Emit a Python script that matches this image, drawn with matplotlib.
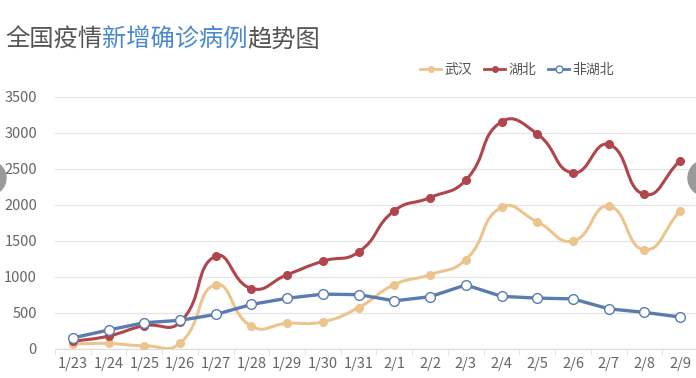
import numpy as np
import matplotlib.pyplot as plt
from matplotlib.path import Path
from matplotlib.patches import PathPatch, Circle
from matplotlib.lines import Line2D

plt.rcParams['font.family'] = ['Noto Sans CJK SC', 'DejaVu Sans']

dates = ["1/23", "1/24", "1/25", "1/26", "1/27", "1/28", "1/29", "1/30", "1/31",
         "2/1", "2/2", "2/3", "2/4", "2/5", "2/6", "2/7", "2/8", "2/9"]
wuhan = [70, 77, 46, 80, 892, 315, 356, 378, 576, 894, 1033, 1242, 1967, 1766, 1501, 1985, 1379, 1920]
hubei = [105, 180, 323, 371, 1291, 840, 1032, 1220, 1347, 1921, 2103, 2345, 3156, 2987, 2447, 2841, 2147, 2618]
non_hubei = [154, 264, 365, 398, 480, 619, 705, 762, 755, 669, 726, 890, 731, 707, 696, 558, 509, 444]

c_wuhan = "#ecc48e"
c_hubei = "#b0464c"
c_non = "#5a7cae"

fig = plt.figure(figsize=(6.96, 3.78), dpi=100)
ax = fig.add_axes([55 / 696, 29 / 378, 643 / 696, 252 / 378])
x = np.arange(len(dates))
ax.set_xlim(-0.5, len(dates) - 0.5)
ax.set_ylim(0, 3500)


def smooth_path(xs, ys, k=0.5):
    # echarts-like bezier smoothing, control points computed in pixel space
    pts = ax.transData.transform(np.column_stack([xs, ys]))
    n = len(pts)
    verts = [pts[0]]
    codes = [Path.MOVETO]
    cps = []
    for i in range(n):
        p = pts[i]
        prev = pts[i - 1] if i > 0 else p
        nxt = pts[i + 1] if i < n - 1 else p
        v = nxt - prev
        d0 = np.hypot(*(p - prev))
        d1 = np.hypot(*(nxt - p))
        s = d0 + d1
        if s == 0:
            cps.append((p, p))
            continue
        cps.append((p - v * k * d0 / s, p + v * k * d1 / s))
    for i in range(n - 1):
        verts += [cps[i][1], cps[i + 1][0], pts[i + 1]]
        codes += [Path.CURVE4] * 3
    verts = ax.transData.inverted().transform(np.array(verts))
    return Path(verts, codes)


for vals, col, z in [(wuhan, c_wuhan, 3), (hubei, c_hubei, 4)]:
    ax.add_patch(PathPatch(smooth_path(x, vals), facecolor="none", edgecolor=col, lw=2.2, zorder=z))
    ax.plot(x, vals, ls="none", marker="o", ms=5.5, color=col, mec=col, zorder=z + 0.5)
ax.plot(x, non_hubei, color=c_non, lw=2.4, marker="o", ms=7, mfc="white", mec=c_non, mew=1.0, zorder=6)

ax.set_yticks(np.arange(0, 3501, 500))
ax.grid(axis="y", color="#e6e6e6", lw=1)
ax.set_axisbelow(True)
for s in ["top", "right", "left"]:
    ax.spines[s].set_visible(False)
ax.spines["bottom"].set_color("#dddddd")
ax.set_xticks(x)
ax.set_xticklabels(dates)
ax.set_xticks(np.arange(-0.5, len(dates), 1), minor=True)
ax.tick_params(axis="x", which="major", length=0, pad=6, labelsize=10.5, colors="#666666")
ax.tick_params(axis="x", which="minor", length=4, color="#dddddd")
ax.tick_params(axis="y", length=0, pad=13, labelsize=10.5, colors="#666666")

# title with highlighted part
t1 = fig.text(5 / 696, 1 - 40 / 378, "全国疫情", fontsize=17.5, color="#555555", va="center")
t2 = ax.annotate("新增确诊病例", xy=(1, 0), xycoords=t1, va="bottom", fontsize=17.5, color="#4a88cf",
                 annotation_clip=False)
ax.annotate("趋势图", xy=(1, 0), xycoords=t2, va="bottom", fontsize=17.5, color="#555555",
            annotation_clip=False)

handles = [
    Line2D([], [], color=c_wuhan, lw=2, marker="o", ms=4),
    Line2D([], [], color=c_hubei, lw=2, marker="o", ms=4),
    Line2D([], [], color=c_non, lw=2, marker="o", ms=5, mfc="white"),
]
fig.legend(handles, ["武汉", "湖北", "非湖北"], loc="center left", bbox_to_anchor=(408 / 696, 1 - 70 / 378),
           ncol=3, frameon=False, fontsize=10, handlelength=1.5, handletextpad=0.2, columnspacing=0.9,
           labelcolor="#555555")

# carousel arrows at the edges
fig.patches.append(Circle((-0.11, (378 - 178) / 100), 0.17, transform=fig.dpi_scale_trans,
                          color="#9a9a9a", zorder=10))
fig.patches.append(Circle((7.06, (378 - 178) / 100), 0.18, transform=fig.dpi_scale_trans,
                          color="#9a9a9a", zorder=10))

fig.savefig("out.png", dpi=100)
